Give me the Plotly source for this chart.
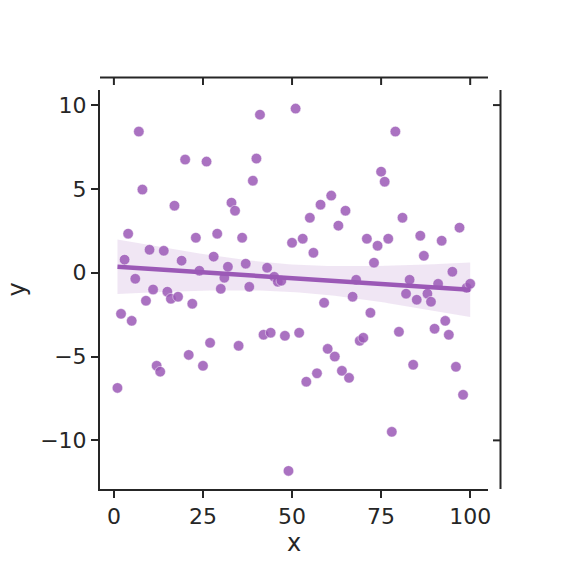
import numpy as np
import plotly.graph_objects as go

# ---- data ----
x_vals = [1, 2, 3, 4, 5, 6, 7, 8, 9, 10, 11, 12, 13, 14, 15, 16, 17, 18, 19, 20,
          21, 22, 23, 24, 25, 26, 27, 28, 29, 30, 31, 32, 33, 34, 35, 36, 37, 38, 39, 40,
          41, 42, 43, 44, 45, 46, 47, 48, 49, 50, 51, 52, 53, 54, 55, 56, 57, 58, 59, 60,
          61, 62, 63, 64, 65, 66, 67, 68, 69, 70, 71, 72, 73, 74, 75, 76, 77, 78, 79, 80,
          81, 82, 83, 84, 85, 86, 87, 88, 89, 90, 91, 92, 93, 94, 95, 96, 97, 98, 99, 100]
y_vals = [-6.87, -2.45, 0.78, 2.33, -2.87, -0.36, 8.42, 4.96, -1.67, 1.37,
          -1.0, -5.55, -5.9, 1.31, -1.13, -1.55, 4.0, -1.43, 0.72, 6.75,
          -4.9, -1.85, 2.09, 0.12, -5.55, 6.63, -4.18, 0.96, 2.33, -0.96,
          -0.3, 0.36, 4.18, 3.7, -4.36, 2.09, 0.54, -0.84, 5.49, 6.81,
          9.43, -3.7, 0.3, -3.58, -0.24, -0.54, -0.48, -3.76, -11.82, 1.79,
          9.79, -3.58, 2.03, -6.5, 3.28, 1.19, -6.0, 4.06, -1.79, -4.54,
          4.6, -5.0, 2.81, -5.85, 3.7, -6.27, -1.43, -0.42, -4.06, -3.88,
          2.03, -2.39, 0.6, 1.61, 6.03, 5.43, 2.03, -9.49, 8.42, -3.52,
          3.28, -1.25, -0.42, -5.49, -1.61, 2.21, 1.01, -1.25, -1.73, -3.34,
          -0.66, 1.91, -2.87, -3.7, 0.06, -5.61, 2.69, -7.28, -0.9, -0.66]
x_ticks = [0, 25, 50, 75, 100]
y_ticks = [-10, -5, 0, 5, 10]
y_ticktext = ["\u221210", "\u22125", "0", "5", "10"]
right_ticks = [-10, 10]

COLOR = "#9b59b6"
SPINE = "#262626"

# ---- regression + 95% CI for the mean ----
x = np.array(x_vals, float)
y = np.array(y_vals, float)
n = len(x)
b1, b0 = np.polyfit(x, y, 1)
grid = np.linspace(x.min(), x.max(), 100)
fit = b0 + b1 * grid
resid = y - (b0 + b1 * x)
s = np.sqrt(np.sum(resid ** 2) / (n - 2))
sxx = np.sum((x - x.mean()) ** 2)
se = s * np.sqrt(1.0 / n + (grid - x.mean()) ** 2 / sxx)
tval = 1.984
upper = fit + tval * se
lower = fit - tval * se

fig = go.Figure()
fig.add_trace(go.Scatter(
    x=np.concatenate([grid, grid[::-1]]), y=np.concatenate([upper, lower[::-1]]),
    fill="toself", fillcolor="rgba(155,89,182,0.15)", line=dict(width=0),
    hoverinfo="skip", showlegend=False))
fig.add_trace(go.Scatter(
    x=x_vals, y=y_vals, mode="markers",
    marker=dict(color="rgba(155,89,182,0.85)", size=10.5,
                line=dict(color="rgba(255,255,255,0.6)", width=0.8)),
    showlegend=False))
fig.add_trace(go.Scatter(x=grid, y=fit, mode="lines",
                         line=dict(color=COLOR, width=4.5), showlegend=False))

font = dict(family="DejaVu Sans", size=22, color=SPINE)
tfont = dict(family="DejaVu Sans", size=24, color=SPINE)
fig.update_xaxes(range=[-3.9, 105], tickvals=x_ticks, showgrid=False, zeroline=False,
                 showline=True, linecolor=SPINE, linewidth=2, ticks="outside",
                 ticklen=7, tickwidth=2, tickcolor=SPINE, tickfont=font,
                 title=dict(text="x", font=tfont, standoff=4))
fig.update_yaxes(range=[-12.9, 10.9], tickvals=y_ticks, ticktext=y_ticktext,
                 showgrid=False, zeroline=False,
                 showline=True, linecolor=SPINE, linewidth=2, ticks="outside",
                 ticklen=7, tickwidth=2, tickcolor=SPINE, tickfont=font,
                 title=dict(text="y", font=tfont, standoff=8))

# offset top & right spines
top_y = 1 + 12.5 / 399
right_x = 1 + 12.5 / 388
shapes = [
    dict(type="line", xref="paper", yref="paper", x0=0, x1=1, y0=top_y, y1=top_y,
         line=dict(color=SPINE, width=2)),
    dict(type="line", xref="paper", yref="paper", x0=right_x, x1=right_x, y0=0, y1=1,
         line=dict(color=SPINE, width=2)),
]
for t in x_ticks:
    shapes.append(dict(type="line", xref="x", yref="paper", x0=t, x1=t,
                       y0=top_y, y1=top_y - 7.5 / 399, line=dict(color=SPINE, width=2)))
for t in right_ticks:
    shapes.append(dict(type="line", xref="paper", yref="y", x0=right_x, x1=right_x - 7.5 / 388,
                       y0=t, y1=t, line=dict(color=SPINE, width=2)))
fig.update_layout(shapes=shapes, width=577, height=565,
                  margin=dict(l=100, r=89, t=90, b=76),
                  plot_bgcolor="white", paper_bgcolor="white")
fig.write_html("out.html")
